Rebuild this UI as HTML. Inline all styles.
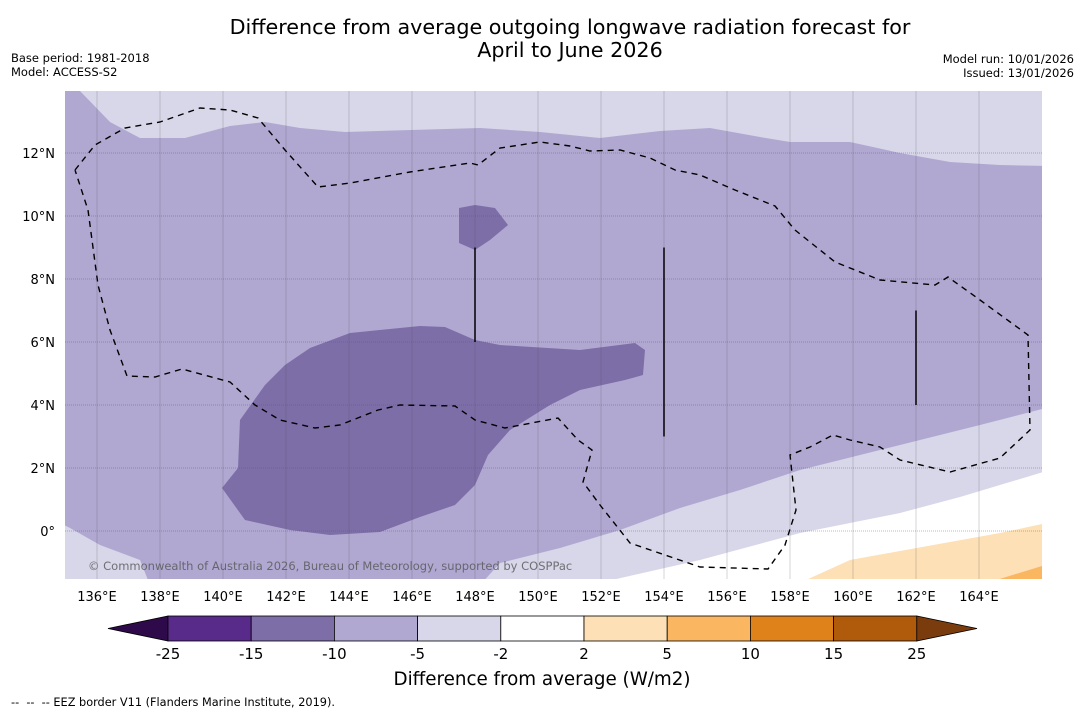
<!DOCTYPE html>
<html><head><meta charset="utf-8"><style>
body{margin:0;background:#fff;font-family:"DejaVu Sans","Liberation Sans",sans-serif;}
svg text{font-family:"DejaVu Sans","Liberation Sans",sans-serif;}
</style></head><body>
<svg id="c" width="1085" height="713" viewBox="0 0 1085 713" xmlns="http://www.w3.org/2000/svg">
<text x="570" y="34" font-size="20.7" text-anchor="middle">Difference from average outgoing longwave radiation forecast for</text>
<text x="570" y="57" font-size="20.7" text-anchor="middle">April to June 2026</text>
<text x="11" y="62" font-size="11.5">Base period: 1981-2018</text>
<text x="11" y="76" font-size="11.5">Model: ACCESS-S2</text>
<text x="1074" y="63" font-size="11.5" text-anchor="end">Model run: 10/01/2026</text>
<text x="1074" y="77" font-size="11.5" text-anchor="end">Issued: 13/01/2026</text>
<defs><clipPath id="mc"><rect x="65" y="91" width="977" height="488"/></clipPath></defs>
<g id="map" clip-path="url(#mc)"></g>
<g id="axes"></g>
<g id="cbar"></g>
<text x="542" y="685" font-size="18.3" text-anchor="middle">Difference from average (W/m2)</text>
<text x="11" y="706" font-size="11.3">--&#160;&#160;--&#160;&#160;-- EEZ border V11 (Flanders Marine Institute, 2019).</text>
</svg>
<script>
const lonTicks=[136,138,140,142,144,146,148,150,152,154,156,158,160,162,164];
const latTicks=[0,2,4,6,8,10,12];
const levels=["-25","-15","-10","-5","-2","2","5","10","15","25"];
const levelColors=["#582a8a","#7d6ea8","#b0a8d1","#d7d7e9","#ffffff","#fde0b5","#fbb661","#e0821a","#b05a0c"];
const NS="http://www.w3.org/2000/svg";
const X=lon=>65.5+(lon-135)*31.5, Y=lat=>531-lat*31.5;
const PX=px=>135+(px-65.5)/31.5, PY=py=>(531-py)/31.5;
function P(arr){return arr.map(p=>[PX(p[0]),PY(p[1])]);}
const lightTop=P([[60,91],[80,91],[110,122],[140,138],[185,138],[230,126],[265,122],[300,128],[345,132],[480,128],[540,132],[600,138],[660,131],[710,128],[760,137],[790,142],[850,142],[900,153],[950,162],[1000,165],[1050,166],[1050,85],[60,85]]);
const lightBot=P([[60,523],[70,528],[100,545],[140,560],[150,585],[480,585],[500,563],[560,548],[620,530],[680,508],[740,490],[800,470],[860,455],[920,440],[980,425],[1050,407],[1050,590],[60,590]]);
const whiteReg=P([[590,585],[700,560],[800,533],[900,513],[960,497],[1050,470],[1050,590],[590,590]]);
const orange1=P([[795,585],[850,560],[900,551],[950,542],[1000,533],[1042,524],[1050,524],[1050,590],[795,590]]);
const orange2=P([[980,585],[1042,566],[1050,566],[1050,590],[980,590]]);
const darkMain=P([[222,488],[238,468],[240,420],[265,385],[285,365],[310,348],[350,333],[420,326],[445,327],[475,340],[500,345],[580,350],[635,343],[645,350],[643,375],[625,380],[580,390],[550,405],[510,430],[488,455],[475,485],[455,505],[420,517],[380,532],[330,535],[290,530],[245,520]]);
const darkSmall=P([[459,208],[475,205],[495,208],[508,225],[490,240],[475,250],[459,243]]);
const eez=P([[75,170],[95,145],[125,128],[160,122],[200,108],[230,110],[258,118],[285,150],[318,187],[350,183],[410,172],[470,163],[478,165],[500,148],[540,142],[570,146],[590,151],[620,150],[650,158],[675,170],[700,175],[735,190],[775,206],[795,230],[835,262],[880,280],[935,285],[948,277],[980,300],[1028,335],[1030,430],[1000,458],[950,472],[900,460],[880,447],[850,440],[833,435],[810,447],[790,455],[796,510],[785,545],[768,569],[700,567],[630,543],[600,505],[583,482],[592,450],[578,440],[558,418],[505,428],[475,420],[455,406],[400,405],[378,410],[340,425],[315,428],[280,420],[255,405],[230,382],[182,369],[155,377],[127,376],[110,330],[98,285],[88,210],[75,170]]);
const vlines=[[148,9,6],[154,9,3],[162,7,4]];
function el(tag,attrs,parent,name,text){const e=document.createElementNS(NS,tag);for(const k in attrs)e.setAttribute(k,attrs[k]);


if(text!==undefined)e.textContent=text;parent.appendChild(e);return e;}
const pts=a=>a.map(p=>X(p[0]).toFixed(1)+","+Y(p[1]).toFixed(1)).join(" ");
const map=document.getElementById('map');
el('rect',{x:65,y:91,width:977,height:488,fill:"#b0a8d1"},map,'map-background');
el('polygon',{points:pts(lightTop),fill:"#d7d7e9"},map,'light-region-north');
el('polygon',{points:pts(lightBot),fill:"#d7d7e9"},map,'light-region-south');
el('polygon',{points:pts(whiteReg),fill:"#ffffff"},map,'neutral-region');
el('polygon',{points:pts(orange1),fill:"#fde0b5"},map,'orange-region-light');
el('polygon',{points:pts(orange2),fill:"#fbb661"},map,'orange-region');
el('polygon',{points:pts(darkMain),fill:"#7d6ea8"},map,'dark-region-main');
el('polygon',{points:pts(darkSmall),fill:"#7d6ea8"},map,'dark-region-small');
lonTicks.forEach(l=>el('line',{x1:X(l),x2:X(l),y1:91,y2:579,stroke:"#555",'stroke-opacity':0.3,'stroke-width':0.8},map,'grid-lon'));
latTicks.forEach(l=>el('line',{x1:65,x2:1042,y1:Y(l),y2:Y(l),stroke:"#555",'stroke-opacity':0.4,'stroke-width':1,'stroke-dasharray':'1 1'},map,'grid-lat'));
el('polyline',{points:pts(eez),fill:"none",stroke:"#000",'stroke-width':1.4,'stroke-dasharray':'6 5'},map,'eez-border');
vlines.forEach(v=>el('line',{x1:X(v[0]),x2:X(v[0]),y1:Y(v[1]),y2:Y(v[2]),stroke:"#000",'stroke-width':1.5},map,'eez-line'));
el('text',{x:88,y:570,'font-size':11.5,fill:"#555",'fill-opacity':0.8},map,'copyright',"© Commonwealth of Australia 2026, Bureau of Meteorology, supported by COSPPac");
const ax=document.getElementById('axes');
lonTicks.forEach(l=>el('text',{x:X(l),y:601,'font-size':13,'text-anchor':'middle'},ax,'x-tick-label',l+"°E"));
latTicks.forEach(l=>el('text',{x:55,y:Y(l)+5,'font-size':13,'text-anchor':'end'},ax,'y-tick-label',l===0?"0°":l+"°N"));
const cb=document.getElementById('cbar');
const cx0=168,cw=83.2,cy=616,ch=25;
el('polygon',{points:`${cx0},${cy} ${cx0},${cy+ch} 108,${cy+ch/2}`,fill:"#2e0a4a",stroke:"#000",'stroke-width':0.8},cb,'colorbar-extend-low');
levelColors.forEach((c,i)=>el('rect',{x:cx0+i*cw,y:cy,width:cw,height:ch,fill:c,stroke:"#000",'stroke-width':0.8},cb,'colorbar-box'));
const ce=cx0+levelColors.length*cw;
el('polygon',{points:`${ce},${cy} ${ce},${cy+ch} 977,${cy+ch/2}`,fill:"#7a3c0c",stroke:"#000",'stroke-width':0.8},cb,'colorbar-extend-high');
levels.forEach((t,i)=>el('text',{x:cx0+i*cw,y:659,'font-size':15,'text-anchor':'middle'},cb,'colorbar-tick-label',t));
</script>
</body></html>
